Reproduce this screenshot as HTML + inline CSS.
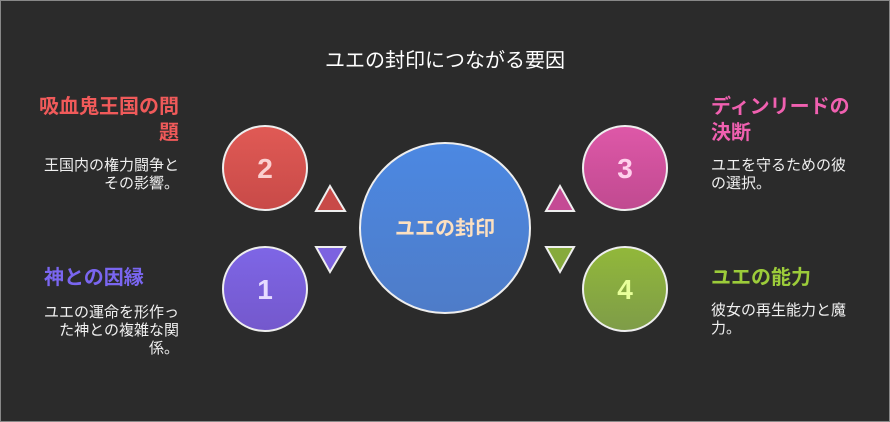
<!DOCTYPE html>
<html><head><meta charset="utf-8"><style>
body{margin:0;background:#2b2b2b}
.w{position:relative;width:888px;height:420px;border:1px solid #888;background:#2b2b2b;font-family:"Liberation Sans","Noto Sans CJK JP",sans-serif;overflow:hidden}
.t{position:absolute;color:#fff}
.h{font-size:20px;font-weight:bold;line-height:26px}
.b{font-size:15px;line-height:18px;color:#f0f0f0}
.l{text-align:right;right:710px}
.r{left:710px}
</style></head><body><div class="w">
<svg width="890" height="422" style="position:absolute;left:-1px;top:-1px">
<defs>
<linearGradient id="g2" x1="0" y1="0" x2="0" y2="1"><stop offset="0" stop-color="#e05a55"/><stop offset="1" stop-color="#c84a48"/></linearGradient>
<linearGradient id="g1" x1="0" y1="0" x2="0" y2="1"><stop offset="0" stop-color="#7e66e6"/><stop offset="1" stop-color="#7458cc"/></linearGradient>
<linearGradient id="g3" x1="0" y1="0" x2="0" y2="1"><stop offset="0" stop-color="#de58a8"/><stop offset="1" stop-color="#c04a90"/></linearGradient>
<linearGradient id="g4" x1="0" y1="0" x2="0" y2="1"><stop offset="0" stop-color="#92b83a"/><stop offset="1" stop-color="#7e9c48"/></linearGradient>
<linearGradient id="gc" x1="0" y1="0" x2="0" y2="1"><stop offset="0" stop-color="#4c88e2"/><stop offset="1" stop-color="#4e7cc8"/></linearGradient>
</defs>
<g stroke="#eee" stroke-width="2">
<circle cx="265" cy="168" r="42" fill="url(#g2)"/>
<circle cx="265" cy="289" r="42" fill="url(#g1)"/>
<circle cx="625" cy="168" r="42" fill="url(#g3)"/>
<circle cx="625" cy="289" r="42" fill="url(#g4)"/>
<circle cx="445" cy="228" r="85" fill="url(#gc)"/>
<polygon points="330,186 345,211 316,211" fill="#c84a48"/>
<polygon points="316,247 345,247 330,272" fill="#7c62e0"/>
<polygon points="560,186 574,211 546,211" fill="#c44a94"/>
<polygon points="546,247 574,247 560,272" fill="#86aa3c"/>
</g>
<g font-family="Liberation Sans,sans-serif" font-weight="bold" font-size="28" text-anchor="middle">
<text x="265" y="178" fill="#fbd0d0">2</text>
<text x="265" y="299" fill="#e6dcff">1</text>
<text x="625" y="178" fill="#ffd0ec">3</text>
<text x="625" y="299" fill="#e8ff9a">4</text>
</g>
<text x="445" y="235" text-anchor="middle" font-size="20" font-weight="bold" fill="#fde0c0" font-family="Liberation Sans,Noto Sans CJK JP,sans-serif">ユエの封印</text>
<text x="445" y="67" text-anchor="middle" font-size="20" fill="#fff" font-family="Liberation Sans,Noto Sans CJK JP,sans-serif">ユエの封印につながる要因</text>
</svg>
<div class="t h l" style="top:93px;width:142px;color:#f05a5a">吸血鬼王国の問題</div>
<div class="t b l" style="top:156px;width:138px">王国内の権力闘争とその影響。</div>
<div class="t h" style="top:264px;left:43px;width:142px;color:#7a66f0">神との因縁</div>
<div class="t b l" style="top:303px;width:138px">ユエの運命を形作った神との複雑な関係。</div>
<div class="t h r" style="top:93px;width:142px;color:#f060b0">ディンリードの決断</div>
<div class="t b r" style="top:156px;width:138px">ユエを守るための彼の選択。</div>
<div class="t h r" style="top:264px;width:142px;color:#9ccc3a">ユエの能力</div>
<div class="t b r" style="top:301px;width:138px">彼女の再生能力と魔力。</div>
</div></body></html>
